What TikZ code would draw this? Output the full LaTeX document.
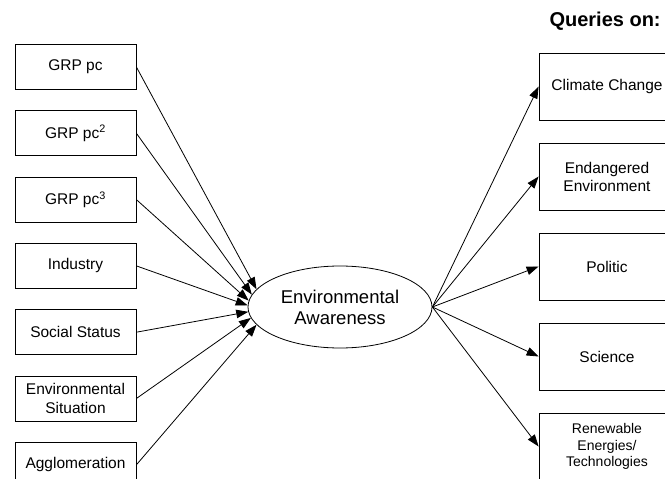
\documentclass[tikz,border=0pt]{standalone}
\usepackage{fontspec}
\setmainfont{Liberation Sans}
\usetikzlibrary{arrows.meta,positioning,shapes.geometric}

\tikzset{
  factor/.style={draw, thick, minimum width=121pt, minimum height=45pt, inner sep=2pt,
    align=center, font=\fontsize{15.5}{18.5}\selectfont},
  query/.style={draw, thick, minimum width=136pt, minimum height=67pt, inner sep=2pt,
    align=center, font=\fontsize{15.5}{18}\selectfont},
  latent/.style={draw, thick, ellipse, minimum width=184pt, minimum height=82pt, inner sep=0pt,
    align=center, font=\fontsize{18.5}{21}\selectfont},
  link/.style={-{Triangle[length=12pt,width=8.5pt]}, line width=0.8pt}
}

\begin{document}
\begin{tikzpicture}[x=1pt,y=-1pt,node distance=66.3pt,on grid]
	\useasboundingbox (0,0) rectangle (665,479);
	% factors
	\node[factor] (f_1) at (75.5,67) {GRP pc};
	\node[factor] (f_2) [below=of f_1] {GRP pc\textsuperscript{2}};
	\node[factor] (f_3) [below=of f_2] {GRP pc\textsuperscript{3}};
	\node[factor] (f_4) [below=of f_3] {Industry};
	\node[factor] (f_5) [below=of f_4] {Social Status};
	\node[factor] (f_6) [below=of f_5] {Environmental\\Situation};
	\node[factor] (f_7) [below=of f_6] {Agglomeration};
	% awareness
	\node[latent] (ea) at (340,307) {Environmental\\Awareness};
	% queries
	\node[anchor=west, font=\fontsize{20}{23}\selectfont\bfseries] (title) at (546,21) {Queries on:};
	\node[query] (q_1) at (607,86.5) {Climate Change};
	\node[query] (q_2) [below=90pt of q_1] {Endangered\\Environment};
	\node[query] (q_3) [below=90pt of q_2] {Politic};
	\node[query] (q_4) [below=90pt of q_3] {Science};
	\node[query, font=\fontsize{14}{16.5}\selectfont] (q_5) [below=90pt of q_4] {Renewable\\Energies/\\Technologies};
	\path[link]
	(f_1.east) edge (ea.168)
	(f_2.east) edge (ea.172)
	(f_3.east) edge (ea.176)
	(f_4.east) edge (ea.179)
	(f_5.east) edge (ea.183)
	(f_6.east) edge (ea.187)
	(f_7.east) edge (ea.192)
	(ea.east) edge (q_1.west)
	(ea.east) edge (q_2.west)
	(ea.east) edge (q_3.west)
	(ea.east) edge (q_4.west)
	(ea.east) edge (q_5.west);
\end{tikzpicture}
\end{document}
